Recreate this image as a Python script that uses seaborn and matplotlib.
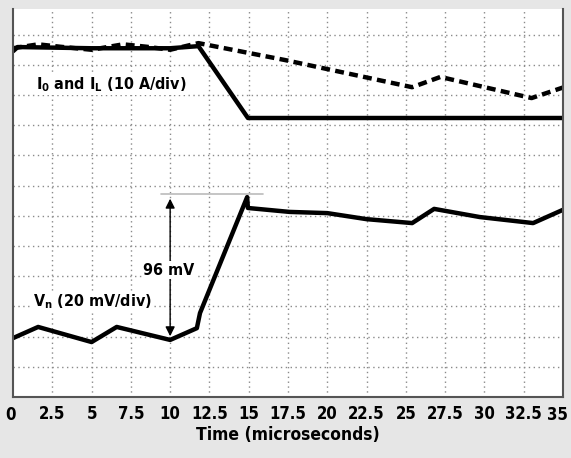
import numpy as np
import pandas as pd
import seaborn as sns
import matplotlib.pyplot as plt
from matplotlib import font_manager

# time axis in microseconds, signal levels in grid divisions
t_io = [0, 0.3, 5, 10, 11.8, 14.95, 35]
io = [11.45, 11.59, 11.55, 11.55, 11.62, 9.24, 9.24]

t_il = [0, 1.6, 3, 5, 7, 8.5, 10, 11.8, 17.3, 25.4, 27.2, 33.0, 35]
il = [11.55, 11.68, 11.6, 11.5, 11.68, 11.6, 11.5, 11.72, 11.16, 10.26, 10.6, 9.9, 10.25]

t_vn = [0, 1.6, 5.0, 6.6, 10.0, 11.7, 11.9, 14.9, 14.95, 17.6, 20.0, 22.5, 25.4, 26.8, 29.7, 33.1, 35]
vn = [1.95, 2.32, 1.82, 2.32, 1.89, 2.28, 2.78, 6.62, 6.26, 6.13, 6.09, 5.89, 5.76, 6.23, 5.96, 5.76, 6.2]

x_ticks = [0, 2.5, 5, 7.5, 10, 12.5, 15, 17.5, 20, 22.5, 25, 27.5, 30, 32.5, 35]
x_labels = ['0', '2.5', '5', '7.5', '10', '12.5', '15', '17.5', '20', '22.5', '25', '27.5', '30', '32.5', '35']

sns.set_theme(style='white')
plt.rcParams['font.family'] = ['DejaVu Sans']
plt.rcParams['mathtext.default'] = 'regular'
plt.rcParams['text.color'] = 'black'

# look for a narrow / condensed bold face
fp = None
for key in ['LiberationSansNarrow-Bold', 'DejaVuSansCondensed-Bold', 'Condensed-Bold', 'Narrow-Bold', 'Condensed']:
    hits = [f.fname for f in font_manager.fontManager.ttflist if key in f.fname.split('/')[-1]]
    if hits:
        fp = font_manager.FontProperties(fname=hits[0])
        break
if fp is None:
    fp = font_manager.FontProperties(family='DejaVu Sans', weight='bold', stretch='condensed')


def tfont(size):
    p = fp.copy()
    p.set_size(size)
    p.set_weight('bold')
    return p


fig = plt.figure(figsize=(5.71, 4.58), dpi=100, facecolor='#e6e6e6')
ax = fig.add_axes([13 / 571, 61 / 458, 550 / 571, 388 / 458])
ax.set_facecolor('white')

df_io = pd.DataFrame({'t': t_io, 'v': io})
df_il = pd.DataFrame({'t': t_il, 'v': il})
df_vn = pd.DataFrame({'t': t_vn, 'v': vn})

sns.lineplot(data=df_il, x='t', y='v', ax=ax, color='black', lw=3.2,
             estimator=None, sort=False)
ax.lines[-1].set_dashes((2.0, 1.2))
sns.lineplot(data=df_io, x='t', y='v', ax=ax, color='black', lw=3.2, estimator=None, sort=False)
sns.lineplot(data=df_vn, x='t', y='v', ax=ax, color='black', lw=3.2, estimator=None, sort=False)

# grid
for gx in x_ticks[1:-1]:
    ax.axvline(gx, color='#8a8a8a', lw=1, ls=(0, (1, 2.5)), zorder=0)
for gy in range(1, 13):
    ax.axhline(gy, color='#8a8a8a', lw=1, ls=(0, (1, 2.5)), zorder=0)

# 96 mV annotation
ax.plot([9.4, 15.9], [6.72, 6.72], color='#bbbbbb', lw=1.2, zorder=1)
ax.annotate('', xy=(10, 6.66), xytext=(10, 1.92),
            arrowprops=dict(arrowstyle='<|-|>', color='black', lw=1, mutation_scale=14))
ax.text(9.9, 4.2, '96 mV', ha='center', va='center', fontproperties=tfont(11.5),
        color='black', bbox=dict(facecolor='white', edgecolor='none', pad=1))
ax.text(1.25, 3.15, 'V$_n$ (20 mV/div)', ha='left', va='center', fontproperties=tfont(11.5),
        color='black', bbox=dict(facecolor='white', edgecolor='none', pad=0.5))
ax.text(1.45, 10.33, 'I$_0$ and I$_L$ (10 A/div)', ha='left', va='center',
        fontproperties=tfont(11.5), color='black',
        bbox=dict(facecolor='white', edgecolor='none', pad=0.5))

ax.set_xlim(0, 35)
ax.set_ylim(0, 12.85)
ax.set_xticks(x_ticks)
# end labels are drawn by hand, nudged inwards so they stay inside the picture
ax.set_xticklabels([''] + x_labels[1:-1] + [''])
for lab in ax.get_xticklabels():
    lab.set_fontproperties(tfont(12))
    lab.set_color('black')
for xv, lab, dx in [(x_ticks[0], x_labels[0], -3), (x_ticks[-1], x_labels[-1], -6)]:
    ax.annotate(lab, xy=(xv, 0), xycoords=('data', 'axes fraction'), xytext=(dx * 0.72, -6.5),
                textcoords='offset points', ha='center', va='top', fontproperties=tfont(12),
                color='black', annotation_clip=False)
ax.set_yticks([])
ax.tick_params(axis='x', direction='in', length=3, width=0.8, color='#555555', pad=6)
ax.set_xlabel('Time (microseconds)', fontproperties=tfont(12.5), color='black', labelpad=2)
ax.set_ylabel('')
for s in ['left', 'right', 'bottom']:
    ax.spines[s].set_color('#555555')
    ax.spines[s].set_linewidth(1.5)
ax.spines['top'].set_visible(False)

fig.savefig('out.png', dpi=100, facecolor=fig.get_facecolor())
